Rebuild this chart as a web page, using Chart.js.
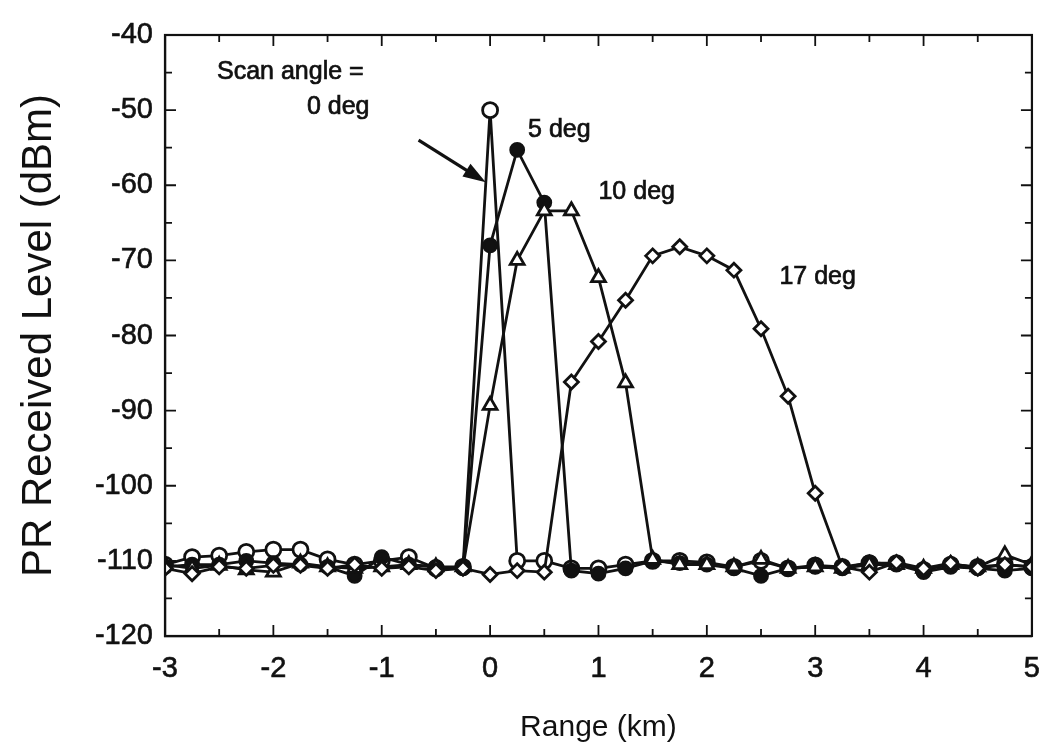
<!DOCTYPE html>
<html>
<head>
<meta charset="utf-8">
<title>PR Received Level vs Range</title>
<script src="https://cdn.jsdelivr.net/npm/chart.js@4.4.1/dist/chart.umd.min.js"></script>
<style>
  html, body { margin: 0; padding: 0; background: #fff; }
  #wrap { width: 1056px; height: 755px; }
</style>
</head>
<body>
<div id="wrap"><canvas id="scanChart" width="1056" height="755"></canvas></div>
<script>
// range bins (km), one sample every 0.25 km
const rangeKm = [-3, -2.75, -2.5, -2.25, -2, -1.75, -1.5, -1.25, -1, -0.75, -0.5, -0.25,
  0, 0.25, 0.5, 0.75, 1, 1.25, 1.5, 1.75, 2, 2.25, 2.5, 2.75, 3, 3.25, 3.5, 3.75, 4, 4.25, 4.5, 4.75, 5];

// received level (dBm) per scan angle
const level0deg = [-110.5, -109.5, -109.3, -108.8, -108.5, -108.5, -109.8, -110.5, -110, -109.5, -111, -110.8,
  -50, -110, -110, -111, -111, -110.5, -110, -110, -110.2, -110.8, -110, -111, -110.6, -110.8, -110.3, -110.3, -111.2, -110.5, -110.8, -110.5, -110.8];
const level5deg = [-110.8, -110.5, -110.5, -110, -110.3, -110.5, -110.8, -112, -109.5, -110.5, -110.8, -111,
  -68, -55.3, -62.3, -111.3, -111.7, -111, -110, -110.3, -110.5, -111, -112, -111, -110.8, -111, -110.2, -110.5, -111.5, -110.8, -111, -111.3, -111];
const level10deg = [-110.5, -111, -110.6, -111.2, -111.5, -110.3, -110.8, -111, -110.8, -110.5, -110.8, -110.8,
  -89.3, -70, -63.4, -63.4, -72.3, -86.3, -109.8, -110.5, -110.5, -110.8, -109.8, -111, -110.8, -111, -110.5, -110.5, -111, -110.5, -110.8, -109.2, -110.5];
const level17deg = [-111, -111.7, -110.8, -111, -110.6, -110.6, -111, -110.5, -111, -110.8, -111.3, -111,
  -111.8, -111.3, -111.5, -86.2, -80.8, -75.3, -69.4, -68.2, -69.4, -71.3, -79.1, -88.1, -101, -110.8, -111.5, -110.2, -111, -110.3, -111, -110.5, -110.8];

// axis tick labels
const xTickValues = [-3, -2, -1, 0, 1, 2, 3, 4, 5];
const yTickValues = [-120, -110, -100, -90, -80, -70, -60, -50, -40];

const FONT = "'Liberation Sans', Arial, Helvetica, sans-serif";
const INK = '#111';

function series(label, values, style, radius, fill) {
  return {
    label: label,
    data: rangeKm.map((x, i) => ({ x: x, y: values[i] })),
    showLine: true,
    borderColor: INK,
    borderWidth: 2.8,
    pointStyle: style,
    pointRadius: radius,
    pointBorderWidth: 2.8,
    pointBorderColor: INK,
    pointBackgroundColor: fill,
    tension: 0
  };
}

// inward ticks on all four sides plus the closing frame
const frameTicks = {
  id: 'frameTicks',
  afterDatasetsDraw(chart) {
    const { ctx, chartArea: a, scales: { x, y } } = chart;
    ctx.save();
    ctx.strokeStyle = INK;
    ctx.lineWidth = 2.2;
    ctx.strokeRect(a.left, a.top, a.right - a.left, a.bottom - a.top);
    ctx.lineWidth = 1.8;
    ctx.beginPath();
    for (let v = -3; v <= 5; v += 0.5) {
      const px = x.getPixelForValue(v);
      const len = Number.isInteger(v) ? 11 : 7;
      ctx.moveTo(px, a.bottom); ctx.lineTo(px, a.bottom - len);
      ctx.moveTo(px, a.top); ctx.lineTo(px, a.top + len);
    }
    for (let v = -120; v <= -40; v += 5) {
      const py = y.getPixelForValue(v);
      const len = v % 10 === 0 ? 11 : 7;
      ctx.moveTo(a.left, py); ctx.lineTo(a.left + len, py);
      ctx.moveTo(a.right, py); ctx.lineTo(a.right - len, py);
    }
    ctx.stroke();
    ctx.restore();
  }
};

// text labels and the arrow pointing at the 0 deg peak
const notes = [
  { text: 'Scan angle =', x: -2.52, y: -44.9 },
  { text: '0 deg', x: -1.69, y: -49.6 },
  { text: '5 deg', x: 0.35, y: -52.6 },
  { text: '10 deg', x: 1.0, y: -60.9 },
  { text: '17 deg', x: 2.67, y: -72.2 }
];
const arrow = { from: { x: -0.66, y: -54.0 }, to: { x: -0.04, y: -59.6 } };

const annotations = {
  id: 'annotations',
  afterDatasetsDraw(chart) {
    const { ctx, scales: { x, y } } = chart;
    ctx.save();
    ctx.fillStyle = INK;
    ctx.strokeStyle = INK;
    ctx.font = '25px ' + FONT;
    ctx.textBaseline = 'middle';
    ctx.textAlign = 'left';
    ctx.lineWidth = 0.7;
    notes.forEach(n => {
      const px = x.getPixelForValue(n.x), py = y.getPixelForValue(n.y);
      ctx.fillText(n.text, px, py);
      ctx.strokeText(n.text, px, py);
    });

    const x0 = x.getPixelForValue(arrow.from.x), y0 = y.getPixelForValue(arrow.from.y);
    const x1 = x.getPixelForValue(arrow.to.x), y1 = y.getPixelForValue(arrow.to.y);
    const ang = Math.atan2(y1 - y0, x1 - x0);
    const head = 24, half = 0.32;
    ctx.lineWidth = 3.2;
    ctx.beginPath();
    ctx.moveTo(x0, y0);
    ctx.lineTo(x1 - head * 0.8 * Math.cos(ang), y1 - head * 0.8 * Math.sin(ang));
    ctx.stroke();
    ctx.beginPath();
    ctx.moveTo(x1, y1);
    ctx.lineTo(x1 - head * Math.cos(ang - half), y1 - head * Math.sin(ang - half));
    ctx.lineTo(x1 - head * Math.cos(ang + half), y1 - head * Math.sin(ang + half));
    ctx.closePath();
    ctx.fill();
    ctx.restore();
  }
};

new Chart(document.getElementById('scanChart'), {
  type: 'scatter',
  data: {
    datasets: [
      series('17 deg', level17deg, 'rectRot', 7, '#fff'),
      series('10 deg', level10deg, 'triangle', 8, '#fff'),
      series('5 deg', level5deg, 'circle', 6.5, INK),
      series('0 deg', level0deg, 'circle', 7.5, '#fff')
    ]
  },
  options: {
    responsive: false,
    animation: false,
    layout: { padding: { top: 35, right: 23, left: 0, bottom: 0 } },
    plugins: {
      legend: { display: false },
      tooltip: { enabled: false }
    },
    scales: {
      x: {
        type: 'linear',
        min: -3,
        max: 5,
        afterBuildTicks: s => { s.ticks = xTickValues.map(v => ({ value: v })); },
        afterFit: s => { s.height = 119; },
        grid: { display: false, drawTicks: false },
        border: { display: true, color: INK, width: 2.2 },
        ticks: {
          padding: 16,
          color: INK,
          textStrokeColor: INK,
          textStrokeWidth: 0.6,
          font: { family: FONT, size: 29 },
          maxRotation: 0
        },
        title: {
          display: true,
          text: 'Range (km)',
          color: INK,
          font: { family: FONT, size: 30 },
          padding: { top: 0, bottom: 9 }
        }
      },
      y: {
        type: 'linear',
        min: -120,
        max: -40,
        afterBuildTicks: s => { s.ticks = yTickValues.map(v => ({ value: v })); },
        afterFit: s => { s.width = 165; },
        grid: { display: false, drawTicks: false },
        border: { display: true, color: INK, width: 2.2 },
        ticks: {
          padding: 12,
          color: INK,
          textStrokeColor: INK,
          textStrokeWidth: 0.6,
          font: { family: FONT, size: 29 }
        },
        title: {
          display: true,
          text: 'PR Received Level (dBm)',
          color: INK,
          font: { family: FONT, size: 42 },
          padding: { top: 14, bottom: 0 }
        }
      }
    }
  },
  plugins: [frameTicks, annotations]
});
</script>
</body>
</html>
